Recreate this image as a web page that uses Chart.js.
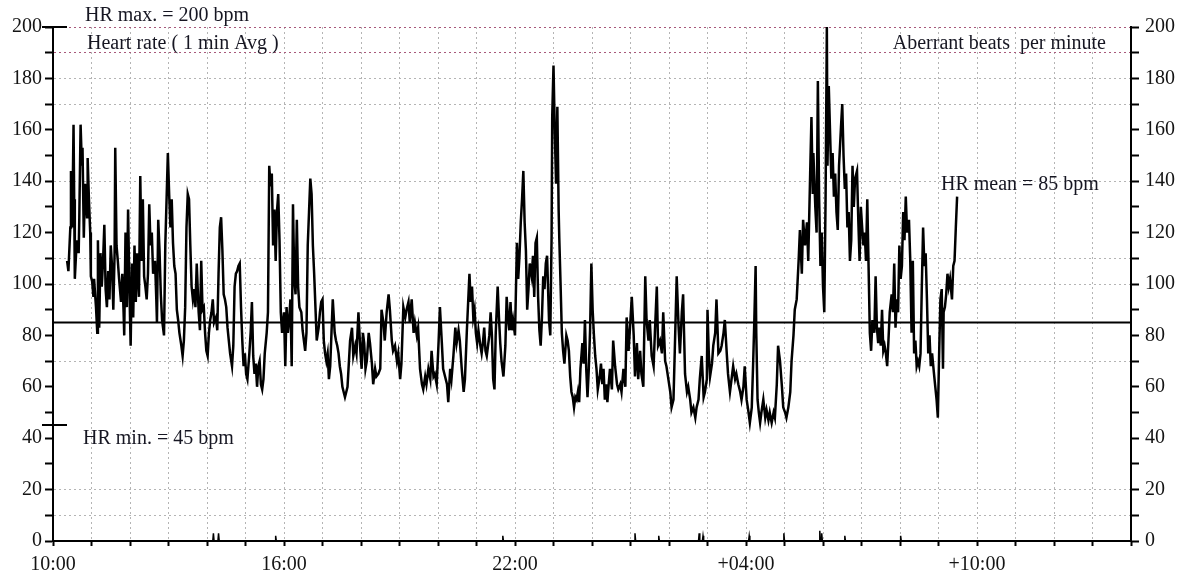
<!DOCTYPE html>
<html>
<head>
<meta charset="utf-8">
<script src="https://cdn.jsdelivr.net/npm/chart.js@4.4.0/dist/chart.umd.min.js"></script>
<style>
  html, body { margin: 0; padding: 0; background: #fff; }
  canvas { display: block; }
</style>
</head>
<body>
<canvas id="hr" width="1188" height="582"></canvas>
<script>
// minutes after 10:00, 1-min averaged heart rate (bpm)
const hrTime = [
  22,24,27,28,30,32,33,34,37,40,
  41,43,45,46,48,50,53,54,56,58,
  59,61,63,64,67,69,70,72,74,76,
  78,80,82,84,86,88,90,92,94,96,
  97,99,101,103,106,108,110,111,113,115,
  117,119,121,123,125,127,129,131,134,136,
  138,140,142,144,146,148,150,152,154,156,
  159,161,162,164,166,168,170,173,175,177,
  179,181,183,185,187,189,191,193,195,197,
  200,202,204,206,208,210,212,214,216,218,
  220,222,224,227,229,231,233,235,237,239,
  241,243,245,247,249,251,254,256,258,260,
  262,264,266,268,270,272,274,276,279,281,
  283,285,287,289,291,293,295,297,299,301,
  303,306,308,310,312,314,316,318,320,322,
  324,326,328,330,333,335,337,339,341,343,
  345,347,349,351,353,355,357,360,362,364,
  366,368,370,372,374,376,378,380,382,384,
  387,389,391,393,395,397,399,401,403,405,
  407,409,411,414,416,418,420,422,424,426,
  428,430,432,434,436,439,441,443,445,447,
  449,451,453,455,457,459,
  463,466,468,471,473,476,479,481,483,485,
  487,489,492,494,497,499,502,504,507,510,
  512,515,517,520,523,525,528,530,533,536,
  538,541,543,546,549,551,554,556,559,562,
  564,567,569,572,575,577,580,582,585,588,
  590,593,595,598,601,603,606,608,611,614,
  616,619,621,624,627,629,632,634,637,640,
  642,645,647,649,651,653,655,657,659,661,
  663,666,668,670,672,674,676,678,680,682,
  684,686,688,690,693,695,697,699,702,705,
  707,709,711,713,715,717,720,723,725,727,
  729,731,733,735,737,739,741,743,746,748,
  750,752,754,756,758,760,762,764,766,768,
  770,773,775,777,778,780,782,784,786,788,
  789,791,793,795,797,800,802,804,806,808,
  810,812,814,816,818,820,822,825,827,829,
  831,833,835,837,839,841,843,845,847,849,
  852,854,856,858,860,862,864,866,868,871,
  873,876,879,881,884,886,889,892,894,897,
  899,902,905,907,910,912,
  915,917,920,923,925,928,930,933,936,938,
  941,943,946,949,951,954,956,959,962,964,
  967,969,972,975,977,980,982,985,988,990,
  993,995,998,1001,1003,1006,1008,1011,1014,1016,
  1019,1020,1022,1024,1027,1029,1032,1034,1037,1040,
  1042,1045,1047,1050,1052,1055,1058,1060,1063,1065,
  1068,1071,1073,1076,1078,1081,1084,1086,1089,1091,
  1093,1095,1096,1098,1100,1102,1104,1107,1110,1112,
  1115,1117,1120,1123,1125,1128,1130,1133,1136,1138,
  1141,1143,1146,1149,1151,1154,1156,1159,1162,1164,
  1167,1169,1172,1175,1177,1180,1182,1184,1185,1188,
  1190,1192,1194,1196,1198,1200,1202,1204,1206,1207,
  1209,1211,1213,1215,1217,1219,1221,1223,1225,1228,
  1230,1232,1234,1236,1238,1240,1242,1244,1246,1248,
  1250,1253,1255,1257,1259,1261,1263,1265,1267,1269,
  1271,1273,1275,1277,1280,1282,1284,1286,1288,1290,
  1292,1294,1296,1298,1300,1302,1304,1307,1309,1311,
  1313,1315,1317,1319,1321,1323,1325,1327,1329,1331,
  1334,1336,1338,1340,1342,1344,1346,1348,1350,1352,
  1354,1356,1358,1360,1362,1364,1366,1368,1370,1373,
  1375,1377,1379,1381,1383,1385,1387,1388,1390,1392,
  1394,1396,1398,1401,1403,1405,1407,1409
];
const hrValue = [
  109,105,122,144,122,162,133,102,117,112,
  126,162,146,153,118,139,126,149,133,120,
  103,101,95,102,91,81,117,83,112,99,
  109,123,98,91,105,94,115,107,90,112,
  153,115,109,102,93,104,89,80,120,91,
  129,99,76,108,87,115,93,112,95,142,
  109,133,103,99,94,104,131,115,120,104,
  109,94,85,125,113,96,86,80,115,133,
  151,135,122,133,116,107,104,90,86,81,
  76,72,78,91,122,135,133,115,99,94,
  98,91,108,89,82,109,90,91,81,74,
  72,81,86,89,94,85,87,82,104,122,
  126,113,96,94,91,83,78,73,68,76,
  99,104,105,107,108,91,78,68,73,65,
  63,73,81,93,72,65,69,60,68,70,
  61,59,63,73,81,89,146,138,143,115,
  129,109,128,135,117,89,81,89,68,91,
  81,86,94,68,131,102,96,125,99,91,
  89,82,78,74,81,115,128,141,135,115,
  104,91,78,83,89,93,94,78,73,70,
  73,63,68,81,94,81,78,76,73,68,
  65,60,58,56,58,60,
  78,83,72,76,73,89,74,67,81,77,
  67,70,81,77,69,61,67,64,65,67,
  90,85,78,89,96,90,78,74,76,70,
  73,63,69,91,87,90,93,85,94,81,
  85,80,83,67,61,59,64,61,67,63,
  74,64,65,61,78,91,77,67,64,61,
  54,67,63,72,83,77,82,78,67,58,
  63,82,93,104,93,99,87,90,81,77,
  82,76,73,77,83,74,72,76,80,89,
  80,63,59,81,99,87,77,70,64,76,
  95,87,82,93,82,86,80,116,102,111,
  124,133,144,124,113,90,98,108,103,111,
  95,116,118,95,82,76,87,103,98,108,
  111,86,80,118,165,185,159,139,169,129,
  118,100,81,74,69,80,78,74,64,58,
  56,52,56,55,58,54,67,77,69,86,
  67,56,67,82,108,90,80,72,67,59,
  64,69,61,67,55,61,54,61,67,59,
  78,68,61,59,61,58,67,60,87,74,
  82,95,80,64,77,63,
  74,65,60,103,86,78,86,72,68,81,
  99,76,78,73,89,70,68,63,58,52,
  55,74,103,83,73,89,96,65,58,60,
  55,50,52,48,52,55,63,72,56,58,
  63,90,73,64,69,76,81,94,73,74,
  76,81,86,73,65,58,64,68,63,65,
  61,58,55,60,68,55,50,46,52,68,
  86,107,81,55,50,46,50,55,48,51,
  47,50,46,50,48,61,76,70,60,52,
  50,48,52,58,70,80,90,94,109,121,
  104,125,115,124,109,143,165,135,151,130,
  120,179,133,107,120,99,89,133,200,146,
  177,159,141,151,134,143,128,121,146,161,
  170,150,137,143,122,128,109,117,146,130,
  141,144,125,109,130,122,115,120,109,133,
  107,81,74,86,81,103,83,77,83,76,
  90,74,76,73,68,78,89,96,89,108,
  83,94,89,115,102,107,128,117,134,120,
  125,109,81,109,73,78,68,70,68,73,
  99,122,107,112,94,73,80,68,73,65,
  60,55,48,73,94,98,67,89,91,96,
  104,99,102,94,107,109,122,134
];

// aberrant beats per minute (right axis)
const aberrantTime = [250, 258, 347, 701, 907, 944, 1007, 1013, 1085, 1139, 1195, 1198, 1234, 1321];
const aberrantCount = [3, 3, 2, 2, 3, 2, 3, 2, 2, 3, 4, 3, 2, 2];

const hrMax = 200;
const hrMin = 45;
const hrMean = 85;

const xMaxMinutes = 28 * 60;
const xTickMinutes = [0, 360, 720, 1080, 1440];
const xTickLabels = ['10:00', '16:00', '22:00', '+04:00', '+10:00'];

const gridShown = [10, 20, 70, 100, 110, 140, 170, 180];
const gridLimit = [190, 200];

const hrPoints = hrTime.map((t, i) => ({ x: t, y: hrValue[i] }));
const aberrantPoints = [{ x: hrTime[0], y: 0 }];
aberrantTime.forEach((t, i) => {
  aberrantPoints.push({ x: t - 1, y: 0 }, { x: t, y: aberrantCount[i] }, { x: t + 1, y: 0 });
});
aberrantPoints.push({ x: hrTime[hrTime.length - 1], y: 0 });

Chart.defaults.font.family = '"Liberation Serif", "Times New Roman", serif';
Chart.defaults.font.size = 20;
Chart.defaults.color = '#141414';

const labels = {
  id: 'labels',
  afterDraw(chart) {
    const { ctx, chartArea, scales: { y } } = chart;
    ctx.save();
    ctx.strokeStyle = '#000';
    ctx.lineWidth = 2;
    [hrMax, hrMin].forEach(v => {
      const py = Math.round(y.getPixelForValue(v));
      ctx.beginPath();
      ctx.moveTo(chartArea.left - 11, py);
      ctx.lineTo(chartArea.left + 14, py);
      ctx.stroke();
    });
    ctx.font = '20px "Liberation Serif"';
    ctx.fillStyle = '#161622';
    ctx.textBaseline = 'alphabetic';
    ctx.textAlign = 'left';
    ctx.fillText('HR max. = ' + hrMax + ' bpm', chartArea.left + 32, chartArea.top - 6);
    ctx.fillText('Heart rate ( 1 min Avg )', chartArea.left + 34, y.getPixelForValue(190) - 4);
    ctx.fillText('HR mean = ' + hrMean + ' bpm', chartArea.right - 190, chartArea.top + 163);
    ctx.fillText('HR min. = ' + hrMin + ' bpm', chartArea.left + 30, y.getPixelForValue(hrMin) + 19);
    ctx.textAlign = 'right';
    ctx.fillText('Aberrant beats  per minute', chartArea.right - 25, y.getPixelForValue(190) - 4);
    ctx.restore();
  }
};

const yTicks = {
  stepSize: 10,
  autoSkip: false,
  padding: 3,
  color: '#141414',
  font: { size: 20 },
  callback: v => (v % 20 === 0 ? v : '')
};

new Chart(document.getElementById('hr'), {
  type: 'line',
  data: {
    datasets: [
      {
        label: 'Heart rate',
        data: hrPoints,
        borderColor: '#000',
        borderWidth: 2.5,
        pointRadius: 0,
        tension: 0,
        yAxisID: 'y'
      },
      {
        label: 'HR mean',
        data: [{ x: 0, y: hrMean }, { x: xMaxMinutes, y: hrMean }],
        borderColor: '#000',
        borderWidth: 2,
        pointRadius: 0,
        yAxisID: 'y'
      },
      {
        label: 'Aberrant beats per minute',
        data: aberrantPoints,
        borderColor: '#000',
        borderWidth: 1.5,
        pointRadius: 0,
        tension: 0,
        yAxisID: 'y1'
      }
    ]
  },
  options: {
    responsive: false,
    animation: false,
    devicePixelRatio: 1,
    layout: { padding: { top: 27, left: 0, right: 0, bottom: 0 } },
    plugins: { legend: { display: false }, tooltip: { enabled: false } },
    scales: {
      x: {
        type: 'linear',
        min: 0,
        max: xMaxMinutes,
        afterFit: s => { s.height = 41; },
        ticks: {
          stepSize: 60,
          autoSkip: false,
          maxRotation: 0,
          padding: 7,
          color: '#141414',
          font: { size: 20 },
          callback: v => {
            const i = xTickMinutes.indexOf(v);
            return i >= 0 ? xTickLabels[i] : '';
          }
        },
        grid: {
          color: '#b4b4b4',
          lineWidth: 1,
          tickColor: '#000',
          tickLength: 5,
          tickWidth: 2
        },
        border: { color: '#000', width: 2, dash: [2, 3] }
      },
      y: {
        position: 'left',
        min: 0,
        max: 200,
        afterFit: s => { s.width = 53; },
        ticks: yTicks,
        grid: {
          color: c => {
            const v = c.tick ? c.tick.value : null;
            if (gridLimit.includes(v)) return '#a8587a';
            if (gridShown.includes(v)) return '#b4b4b4';
            return 'rgba(0,0,0,0)';
          },
          lineWidth: 1,
          tickColor: '#000',
          tickLength: 8,
          tickWidth: 2
        },
        border: { color: '#000', width: 2, dash: [2, 3] }
      },
      y1: {
        position: 'right',
        min: 0,
        max: 200,
        afterFit: s => { s.width = 57; },
        ticks: Object.assign({}, yTicks, { padding: 6 }),
        grid: {
          drawOnChartArea: false,
          tickColor: '#000',
          tickLength: 8,
          tickWidth: 2
        },
        border: { color: '#000', width: 2 }
      }
    }
  },
  plugins: [labels]
});
</script>
</body>
</html>
